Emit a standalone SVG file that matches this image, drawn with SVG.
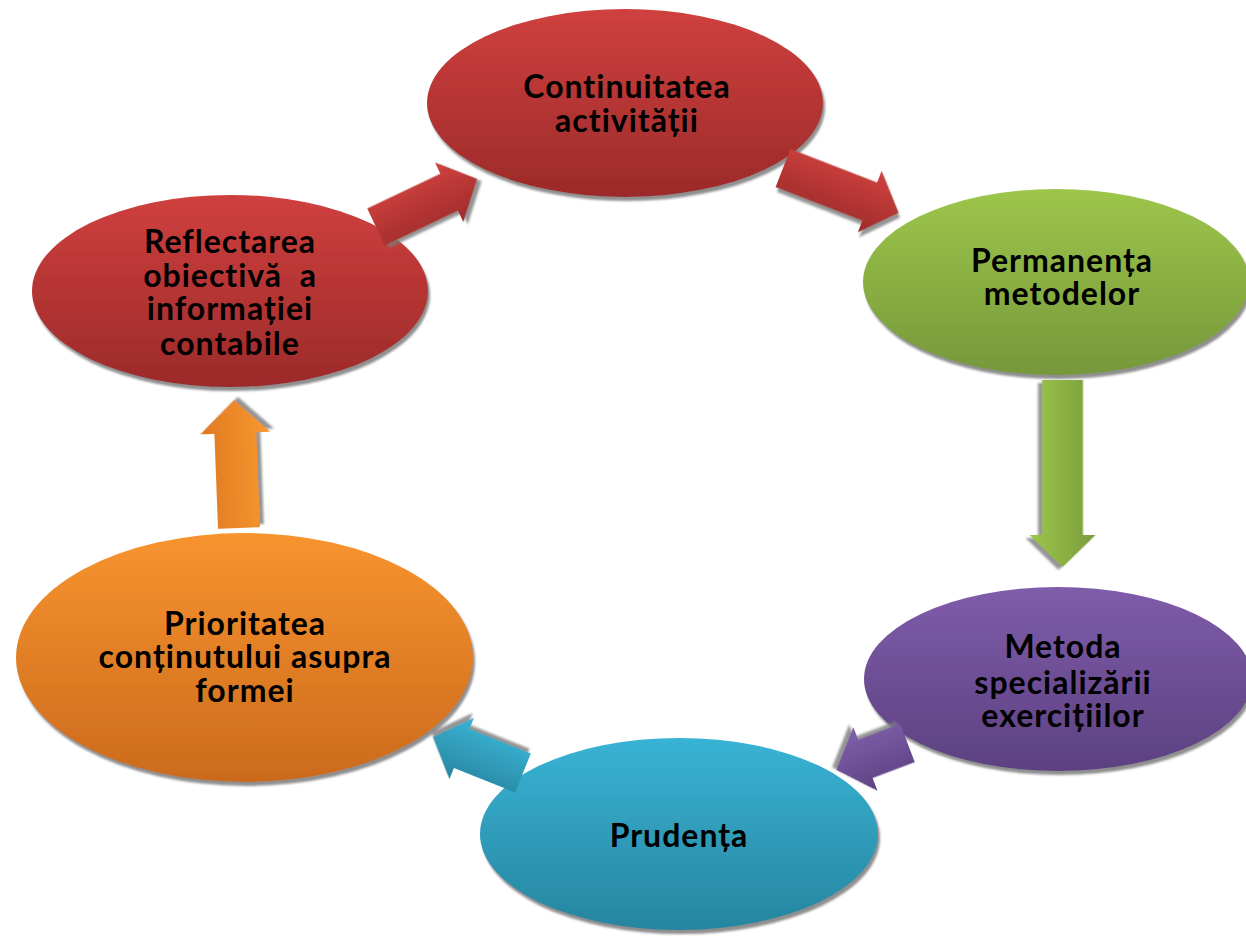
<svg xmlns="http://www.w3.org/2000/svg" width="1246" height="937" viewBox="0 0 1246 937">
<style>
.lbl{font-family:Lato,"Open Sans","Liberation Sans",sans-serif;font-weight:700;font-size:32px;letter-spacing:1px;fill:#000;text-anchor:middle}
.node{filter:url(#sh)}
.arr{filter:url(#ash)}
</style>
<defs>
<filter id="sh" x="-10%" y="-10%" width="120%" height="125%">
<feDropShadow dx="2" dy="4" stdDeviation="1.2" flood-color="#7a7a7a" flood-opacity="0.85"/>
</filter>
<filter id="ash" x="-20%" y="-30%" width="140%" height="160%">
<feDropShadow dx="3" dy="4" stdDeviation="1.2" flood-color="#7a7a7a" flood-opacity="0.8"/>
</filter>
<linearGradient id="gRed" x1="0" y1="0" x2="0" y2="1"><stop offset="0" stop-color="#cf403e"/><stop offset="1" stop-color="#9c2a2a"/></linearGradient>
<linearGradient id="gGreen" x1="0" y1="0" x2="0" y2="1"><stop offset="0" stop-color="#9dc64b"/><stop offset="1" stop-color="#76983a"/></linearGradient>
<linearGradient id="gPurple" x1="0" y1="0" x2="0" y2="1"><stop offset="0" stop-color="#7f5caa"/><stop offset="1" stop-color="#5c4181"/></linearGradient>
<linearGradient id="gTeal" x1="0" y1="0" x2="0" y2="1"><stop offset="0" stop-color="#39b3d4"/><stop offset="1" stop-color="#26859f"/></linearGradient>
<linearGradient id="gOrange" x1="0" y1="0" x2="0" y2="1"><stop offset="0" stop-color="#f8942f"/><stop offset="1" stop-color="#cb6a1c"/></linearGradient>
<linearGradient id="aRed" x1="0" y1="0" x2="0" y2="1"><stop offset="0" stop-color="#d0423f"/><stop offset="1" stop-color="#9e2b2b"/></linearGradient>
<linearGradient id="aGreen" x1="0" y1="1" x2="0" y2="0"><stop offset="0" stop-color="#9dc64b"/><stop offset="1" stop-color="#7a9c3b"/></linearGradient>
<linearGradient id="aPurple" x1="0" y1="1" x2="0" y2="0"><stop offset="0" stop-color="#8060ab"/><stop offset="1" stop-color="#5d4282"/></linearGradient>
<linearGradient id="aTeal" x1="0" y1="1" x2="0" y2="0"><stop offset="0" stop-color="#3ab4d5"/><stop offset="1" stop-color="#2886a0"/></linearGradient>
<linearGradient id="aOrange" x1="0" y1="1" x2="0" y2="0"><stop offset="0" stop-color="#f9982f"/><stop offset="1" stop-color="#df7a22"/></linearGradient>
</defs>
<rect width="1246" height="937" fill="#fff"/>
<g id="nodes">
<g id="n-continuitatea">
<ellipse class="node" cx="625" cy="103" rx="198" ry="94" fill="url(#gRed)"/>
<text class="lbl" x="627" y="98">Continuitatea</text>
<text class="lbl" x="627" y="132">activității</text>
</g>
<g id="n-permanenta">
<ellipse class="node" cx="1056" cy="282" rx="193" ry="93" fill="url(#gGreen)"/>
<text class="lbl" x="1062" y="272">Permanența</text>
<text class="lbl" x="1062" y="305">metodelor</text>
</g>
<g id="n-metoda">
<ellipse class="node" cx="1058" cy="679" rx="194" ry="92" fill="url(#gPurple)"/>
<text class="lbl" x="1063" y="658">Metoda</text>
<text class="lbl" x="1063" y="694">specializării</text>
<text class="lbl" x="1063" y="727">exercițiilor</text>
</g>
<g id="n-prudenta">
<ellipse class="node" cx="679" cy="834" rx="199" ry="96" fill="url(#gTeal)"/>
<text class="lbl" x="679" y="847">Prudența</text>
</g>
<g id="n-prioritatea">
<ellipse class="node" cx="244.5" cy="657.5" rx="228.5" ry="124.5" fill="url(#gOrange)"/>
<text class="lbl" x="245" y="635">Prioritatea</text>
<text class="lbl" x="245" y="668">conținutului asupra</text>
<text class="lbl" x="245" y="702">formei</text>
</g>
<g id="n-reflectarea">
<ellipse class="node" cx="230" cy="291" rx="198" ry="96" fill="url(#gRed)"/>
<text class="lbl" x="230" y="253">Reflectarea</text>
<text class="lbl" x="230" y="287" style="white-space:pre" xml:space="preserve">obiectivă  a</text>
<text class="lbl" x="230" y="320">informației</text>
<text class="lbl" x="230" y="355">contabile</text>
</g>
</g>
<g id="connectors">
<path class="arr" transform="translate(376,227) rotate(-25.4)" d="M0,-20.5 L81,-20.5 L81,-33 L112,0 L81,33 L81,20.5 L0,20.5 Z" fill="url(#aRed)"/>
<path class="arr" transform="translate(783,168) rotate(21.2)" d="M0,-20.5 L93,-20.5 L93,-33 L124,0 L93,33 L93,20.5 L0,20.5 Z" fill="url(#aRed)"/>
<path class="arr" transform="translate(1062.5,380) rotate(90)" d="M0,-20.5 L155,-20.5 L155,-33 L187,0 L155,33 L155,20.5 L0,20.5 Z" fill="url(#aGreen)"/>
<path class="arr" transform="translate(907.5,743) rotate(159.3)" d="M0,-20.5 L45,-20.5 L45,-34 L76,0 L45,34 L45,20.5 L0,20.5 Z" fill="url(#aPurple)"/>
<path class="arr" transform="translate(523,773) rotate(201.8)" d="M0,-21 L66,-21 L66,-33 L97,0 L66,33 L66,21 L0,21 Z" fill="url(#aTeal)"/>
<path class="arr" transform="translate(239,528) rotate(-92.2)" d="M0,-21 L95,-21 L95,-35 L128,0 L95,35 L95,21 L0,21 Z" fill="url(#aOrange)"/>
</g>
</svg>
